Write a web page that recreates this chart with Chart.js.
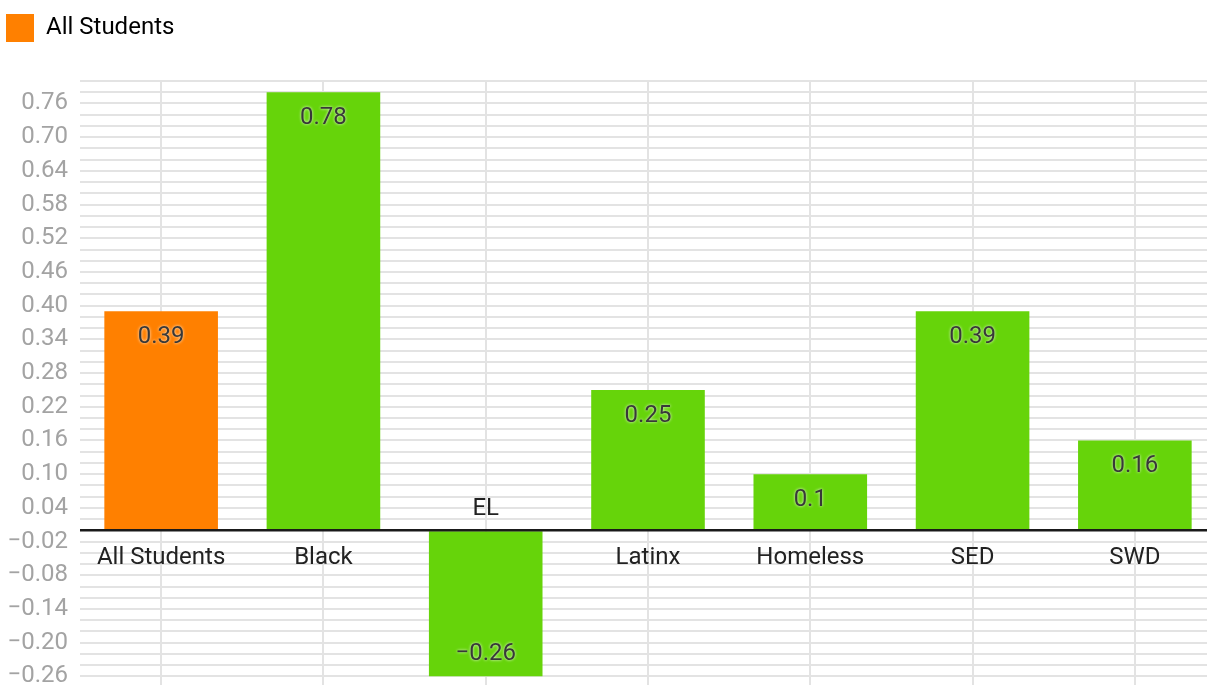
<!DOCTYPE html>
<html>
<head>
<meta charset="utf-8">
<script src="https://cdn.jsdelivr.net/npm/chart.js@4/dist/chart.umd.min.js"></script>
<style>
  html, body { margin: 0; padding: 0; background: #fff; overflow: hidden; }
  #wrap { width: 1216px; height: 714px; }
</style>
</head>
<body>
<div id="wrap"><canvas id="c" width="1216" height="714"></canvas></div>
<script>
// data
const categories = ['All Students', 'Black', 'EL', 'Latinx', 'Homeless', 'SED', 'SWD'];
const values = [0.39, 0.78, -0.26, 0.25, 0.1, 0.39, 0.16];
const barColors = ['#FF8000', '#66D40A', '#66D40A', '#66D40A', '#66D40A', '#66D40A', '#66D40A'];
const legendLabel = 'All Students';

const yMin = -0.28, yMax = 0.80, yStep = 0.02;
const labelBase = -0.26, labelEvery = 3; // every 3rd grid line gets a label

const FONT = 'Roboto, "Noto Sans", sans-serif';
const minus = s => String(s).replace('-', '\u2212');

// extra room under the legend
const legendGap = {
  id: 'legendGap',
  beforeInit(chart) {
    const fit = chart.legend.fit;
    chart.legend.fit = function () {
      fit.call(this);
      this.height += 29;
    };
  }
};

// zero line + category names + value labels
const overlay = {
  id: 'overlay',
  afterDatasetsDraw(chart) {
    const ctx = chart.ctx;
    const x = chart.scales.x, y = chart.scales.y;
    const area = chart.chartArea;
    const y0 = y.getPixelForValue(0);

    ctx.save();
    ctx.strokeStyle = '#1a1a1a';
    ctx.lineWidth = 2.5;
    ctx.beginPath();
    ctx.moveTo(area.left, y0);
    ctx.lineTo(area.right, y0);
    ctx.stroke();

    ctx.textAlign = 'center';
    ctx.textBaseline = 'middle';
    ctx.font = '24px ' + FONT;
    ctx.fillStyle = '#222';
    categories.forEach((c, i) => {
      const px = x.getPixelForValue(i);
      const py = values[i] >= 0 ? y0 + 28 : y0 - 21;
      ctx.fillText(c, px, py);
    });

    const meta = chart.getDatasetMeta(0);
    ctx.shadowColor = 'rgba(255,255,255,0.9)';
    ctx.shadowBlur = 3;
    ctx.fillStyle = '#383838';
    meta.data.forEach((bar, i) => {
      const v = values[i];
      const py = v >= 0 ? bar.y + 26 : bar.y - 22;
      ctx.fillText(minus(v), bar.x, py);
    });
    ctx.restore();
  }
};

new Chart(document.getElementById('c').getContext('2d'), {
  type: 'bar',
  data: {
    labels: categories,
    datasets: [{
      label: legendLabel,
      data: values,
      backgroundColor: barColors,
      borderWidth: 0,
      barPercentage: 0.7,
      categoryPercentage: 1.0
    }]
  },
  options: {
    responsive: false,
    animation: false,
    devicePixelRatio: 1,
    layout: { padding: { top: 8, left: 0, right: 0, bottom: 0 } },
    scales: {
      x: {
        type: 'category',
        ticks: { display: false },
        grid: { offset: false, color: '#e3e3e3', lineWidth: 2, drawTicks: false },
        border: { display: false }
      },
      y: {
        min: yMin,
        max: yMax,
        afterFit(scale) { scale.width = 80; },
        ticks: {
          stepSize: yStep,
          autoSkip: false,
          maxTicksLimit: 200,
          padding: 12,
          color: '#a3a3a3',
          font: { family: FONT, size: 24 },
          callback(v) {
            const k = Math.round((v - labelBase) / yStep);
            if (k % labelEvery !== 0 || v < labelBase - 1e-9) return '';
            return minus(v.toFixed(2));
          }
        },
        grid: { color: '#e3e3e3', lineWidth: 2, drawTicks: false },
        border: { display: false }
      }
    },
    plugins: {
      legend: {
        position: 'top',
        align: 'start',
        labels: {
          boxWidth: 28,
          boxHeight: 28,
          padding: 6,
          color: '#222',
          font: { family: FONT, size: 24 },
          generateLabels() {
            return [{ text: legendLabel, fillStyle: barColors[0], strokeStyle: barColors[0], lineWidth: 0, datasetIndex: 0 }];
          }
        }
      },
      tooltip: { enabled: false }
    }
  },
  plugins: [legendGap, overlay]
});
</script>
</body>
</html>
